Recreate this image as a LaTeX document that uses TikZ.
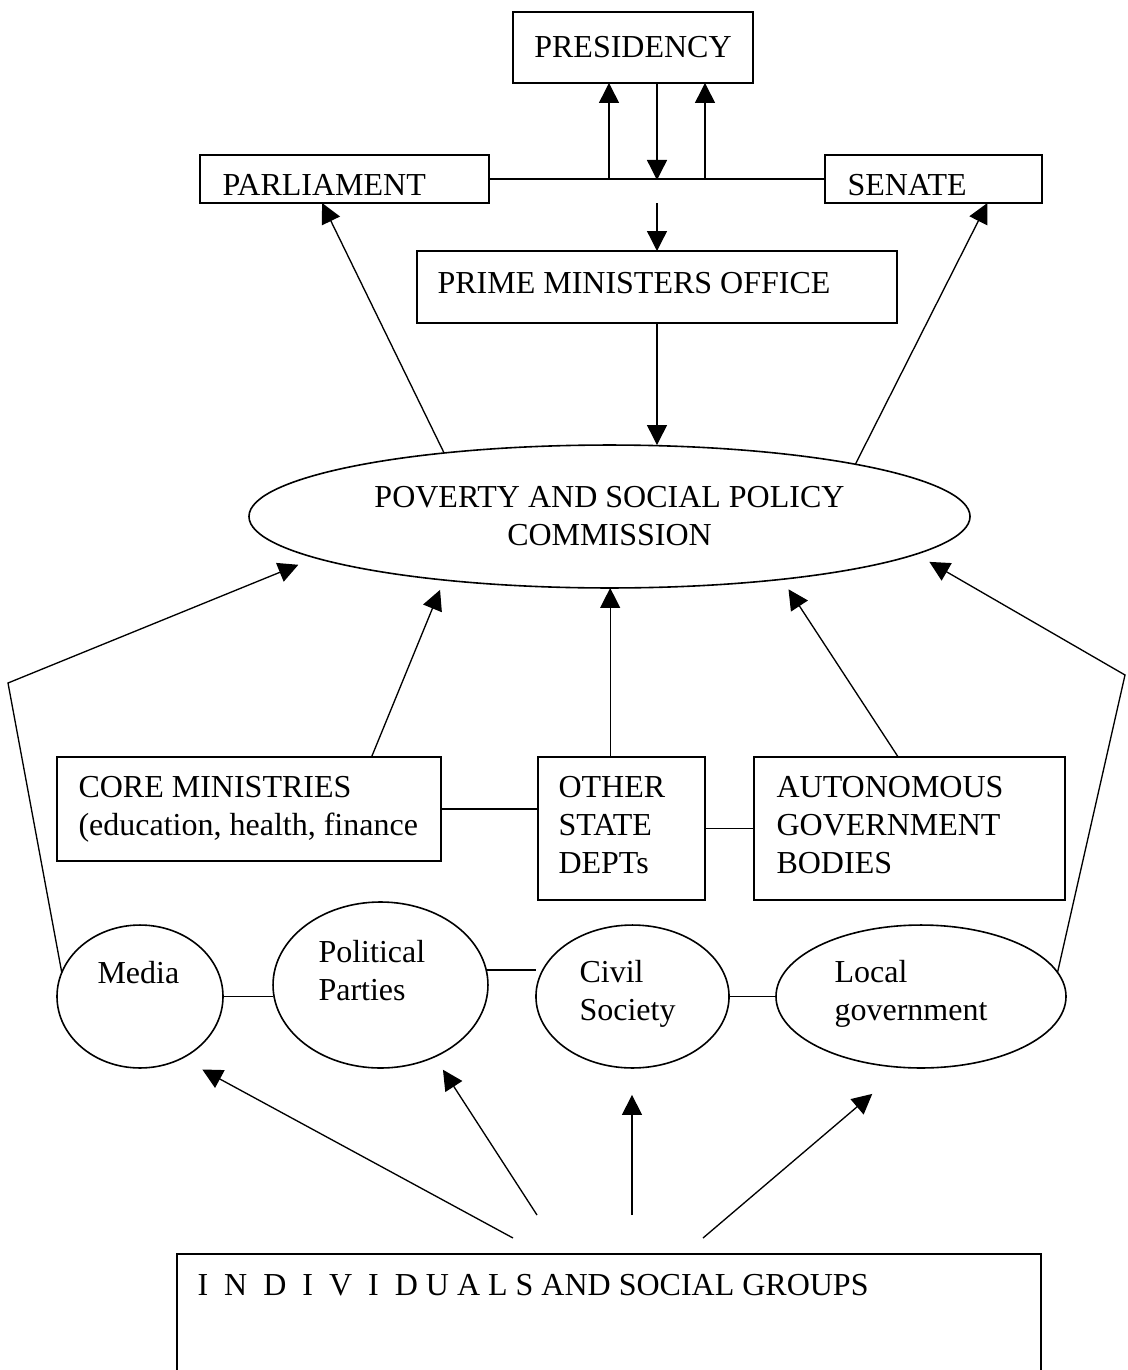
\documentclass[tikz,border=0pt]{standalone}
\usepackage{fontspec}
\setmainfont{Liberation Serif}
\usepackage{tikz}
\usetikzlibrary{shapes,arrows.meta,positioning,calc}

\begin{document}
\begin{tikzpicture}[x=0.375pt,y=-0.375pt,font=\fontsize{12pt}{14.25pt}\selectfont,
	box/.style={draw,rectangle,line width=0.75pt,inner sep=0pt,outer sep=0pt},
	oval/.style={draw,ellipse,line width=0.6pt,inner sep=0pt,outer sep=0pt},
	txt/.style={anchor=base west,align=left,inner sep=0pt},
	lnk/.style={line width=0.5pt},
	arr/.style={lnk,-{Triangle[length=7.5pt,width=7.5pt]}}]
	\clip (0,0) rectangle (1127,1370);
	% government
	\node[box,minimum width=90pt,minimum height=26.6pt] (pres) at (633,47.5) {PRESIDENCY};
	\node[box,minimum width=108.4pt,minimum height=18pt] (parl) at (344.5,179) {};
	\node[box,minimum width=81.4pt,minimum height=18pt] (sen) at (933.5,179) {};
	\node[box,minimum width=180pt,minimum height=27pt] (pmo) at (657,287) {};
	\node[oval,minimum width=270.4pt,minimum height=53.6pt,align=center] (pspc) at (609.5,516.5) {POVERTY AND SOCIAL POLICY\\COMMISSION};
	\node[txt] (parltxt) at (222,195) {PARLIAMENT};
	\node[txt] (sentxt) at (847,195) {SENATE};
	\node[txt] (pmotxt) at (437,293) {PRIME MINISTERS OFFICE};
	% state bodies (base of a text node = its last line)
	\node[box,minimum width=144pt,minimum height=39pt] (core) at (249,809) {};
	\node[box,minimum width=62.6pt,minimum height=53.6pt] (other) at (621.5,828.5) {};
	\node[box,minimum width=116.6pt,minimum height=53.6pt] (auto) at (909.5,828.5) {};
	\node[txt] (coretxt) at (78,835) {CORE MINISTRIES\\(education, health, finance};
	\node[txt] (othertxt) at (558,873) {OTHER\\STATE\\DEPTs};
	\node[txt] (autotxt) at (776,873) {AUTONOMOUS\\GOVERNMENT\\BODIES};
	% society
	\node[oval,minimum width=62.25pt,minimum height=53.6pt] (media) at (140,996.5) {};
	\node[oval,minimum width=80.6pt,minimum height=62.25pt] (pol) at (380.5,985) {};
	\node[oval,minimum width=72.4pt,minimum height=53.6pt] (civ) at (632.5,996.5) {};
	\node[oval,minimum width=108.75pt,minimum height=53.6pt] (loc) at (921,996.5) {};
	\node[txt] (mediatxt) at (97,983) {Media};
	\node[txt] (poltxt) at (318,1000) {Political\\Parties};
	\node[txt] (civtxt) at (579,1020) {Civil\\Society};
	\node[txt] (loctxt) at (834,1020) {Local\\government};
	\node[box,minimum width=324pt,minimum height=54.75pt] (indiv) at (609,1327) {};
	\node[txt] (indivtxt) at (197,1295) {I~~N~~D~~I~~V~~I~~D U A L S AND SOCIAL GROUPS};
	% junctions and bends
	\coordinate (j1) at (609,180);
	\coordinate (j2) at (657,180);
	\coordinate (j3) at (705,180);
	\coordinate (j4) at (657,203);
	\coordinate (lbend) at (8,683);
	\coordinate (rbend) at (1125,675);
	\coordinate (g1) at (513,1238);
	\coordinate (g2) at (537,1215);
	\coordinate (g3) at (632,1215);
	\coordinate (g4) at (703,1238);
	% connectors
	\draw[lnk] (parl.east) -- (sen.west);
	\draw[arr] (j1) -- (j1 |- pres.south);
	\draw[arr] (j2 |- pres.south) -- (j2);
	\draw[arr] (j3) -- (j3 |- pres.south);
	\draw[arr] (j4) -- (j4 |- pmo.north);
	\draw[arr] (pmo.south) -- (pmo.south |- pspc.north);
	\draw[arr] (pspc.159) -- (parl.-133);
	\draw[arr] (pspc.12.5) -- (sen.-24);
	\draw[arr,shorten >=4pt] (core.23.4) -- (pspc.-159.5);
	\draw[arr] (other.99) -- (other.99 |- pspc.south);
	\draw[arr,shorten >=4.5pt] (auto.99) -- (pspc.-20.5);
	\draw[lnk] (core.east) -- (core.east -| other.west);
	\draw[lnk] (other.east) -- (auto.west);
	\draw[arr,shorten >=6.9pt] (media.163) -- (lbend) -- (pspc.-172.2);
	\draw[arr,shorten >=5.8pt] (loc.10) -- (rbend) -- (pspc.-7.6);
	\draw[lnk] (media.east) -- (media.east -| pol.west);
	\draw[lnk] (pol.8) -- (pol.8 -| civ.west);
	\draw[lnk] (civ.east) -- (loc.west);
	\draw[arr,shorten >=8.8pt] (g1) -- (media.-56.5);
	\draw[arr,shorten >=5.8pt] (g2) -- (pol.-53.6);
	\draw[arr,shorten >=10.1pt] (g3) -- (g3 |- civ.south);
	\draw[arr,shorten >=15.3pt] (g4) -- (loc.-104.2);
\end{tikzpicture}
\end{document}
